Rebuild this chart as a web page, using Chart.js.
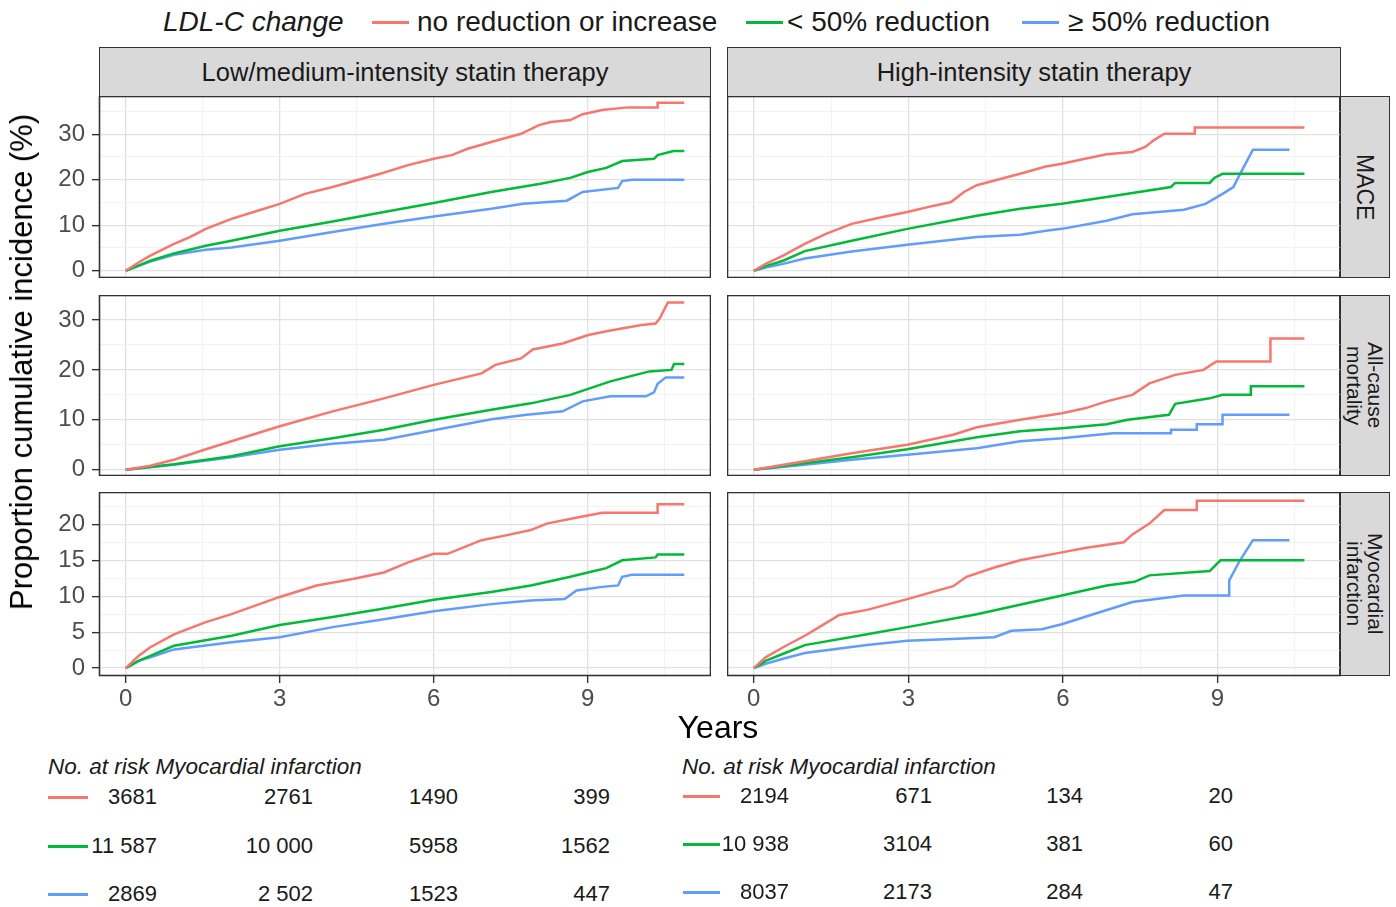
<!DOCTYPE html>
<html>
<head>
<meta charset="utf-8">
<script src="https://cdn.jsdelivr.net/npm/chart.js@4"></script>
<style>
  body { margin: 0; background: #fff; font-family: "Liberation Sans", Arial, sans-serif; color: #1a1a1a; }
  #page { position: relative; width: 1396px; height: 907px; overflow: hidden; }
  .abs { position: absolute; white-space: nowrap; }
  .box { position: absolute; }
  .strip { position: absolute; background: #d9d9d9; border: 1.6px solid #333; box-sizing: border-box;
           display: flex; align-items: center; justify-content: center; font-size: 25.5px; color: #1a1a1a; }
  .vstrip { writing-mode: vertical-rl; line-height: 21px; font-size: 21px; text-align: center; }
  .key { position: absolute; height: 3px; }
</style>
</head>
<body>
<div id="page"></div>
<script>
// legend / series
const seriesNames = ['no reduction or increase', '< 50% reduction', '\u2265 50% reduction'];
const seriesColors = ['#F8766D', '#00BA38', '#619CFF'];
const therapies = ['Low/medium-intensity statin therapy', 'High-intensity statin therapy'];
const outcomes = ['MACE', 'All-cause\nmortality', 'Myocardial\ninfarction'];

// axis ticks
const xMajor = [0, 3, 6, 9];
const xMinor = [1.5, 4.5, 7.5, 10.5];
const yMajorTop = [0, 10, 20, 30];
const yMinorTop = [5, 15, 25, 35];
const yMajorMid = [0, 10, 20, 30];
const yMinorMid = [5, 15, 25];
const yMajorBot = [0, 5, 10, 15, 20];
const yMinorBot = [2.5, 7.5, 12.5, 17.5, 22.5];

// MACE, low/medium intensity
const maceLowNone = [[0,0],[0.25,1.8],[0.48,3.3],[0.94,5.9],[1.25,7.4],[1.56,9.2],[2.06,11.4],[2.49,12.9],[3,14.7],[3.49,16.9],[4.03,18.4],[4.5,19.9],[4.96,21.3],[5.5,23.2],[6,24.6],[6.35,25.4],[6.66,26.8],[7.12,28.3],[7.7,30.1],[8.05,32],[8.28,32.7],[8.66,33.1],[8.9,34.4],[9.28,35.3],[9.78,35.9],[10.36,35.9],[10.36,36.9],[10.88,36.9]];
const maceLowUnder = [[0,0],[0.25,1.1],[0.48,2.2],[0.94,3.8],[1.56,5.5],[2.06,6.6],[3,8.8],[4.03,10.8],[5.03,12.9],[6,14.9],[7.12,17.3],[8.08,19.1],[8.66,20.4],[9,21.7],[9.36,22.6],[9.67,24.1],[10.29,24.6],[10.36,25.4],[10.67,26.3],[10.88,26.3]];
const maceLowOver = [[0,0],[0.25,1.1],[0.48,2.0],[0.94,3.5],[1.56,4.6],[2.06,5.1],[3,6.6],[4.03,8.5],[5.03,10.3],[6,11.9],[7.12,13.6],[7.74,14.7],[8.59,15.4],[8.9,17.3],[9.59,18.2],[9.67,19.7],[9.86,20],[10.88,20]];
// MACE, high intensity
const maceHighNone = [[0,0],[0.23,1.5],[0.57,3.3],[0.99,5.9],[1.4,8.1],[1.9,10.3],[2.5,11.8],[2.98,12.9],[3.5,14.3],[3.83,15.1],[4.08,17.3],[4.33,18.8],[5.17,21.3],[5.67,22.9],[5.98,23.5],[6.43,24.6],[6.85,25.6],[7.35,26.1],[7.6,27.2],[7.77,28.7],[7.97,30.1],[8.56,30.1],[8.56,31.5],[10.69,31.5]];
const maceHighUnder = [[0,0],[0.23,1],[0.57,2.2],[0.99,4.3],[1.9,6.6],[2.98,9.2],[4.33,12.1],[5.17,13.6],[5.98,14.7],[6.85,16.2],[7.35,17.1],[8.1,18.4],[8.18,19.3],[8.85,19.3],[8.94,20.4],[9.1,21.3],[10.69,21.3]];
const maceHighOver = [[0,0],[0.23,0.7],[0.57,1.5],[0.99,2.7],[1.9,4.2],[2.98,5.7],[4.33,7.4],[5.17,7.9],[5.67,8.8],[5.98,9.2],[6.85,11],[7.35,12.4],[8.35,13.4],[8.77,14.7],[9.1,16.9],[9.31,18.4],[9.48,22.1],[9.69,26.6],[10.4,26.6]];
// All-cause mortality, low/medium intensity
const mortLowNone = [[0,0],[0.48,0.8],[0.94,2],[1.56,4.1],[2.06,5.7],[3,8.7],[4.03,11.7],[5.03,14.3],[6,17],[6.93,19.3],[7.2,21],[7.7,22.3],[7.93,24.1],[8.51,25.3],[9.01,27],[9.44,27.9],[10.05,29],[10.32,29.3],[10.4,30.3],[10.56,33.5],[10.88,33.5]];
const mortLowUnder = [[0,0],[0.94,1.1],[2.06,2.7],[3,4.7],[4.03,6.3],[5.03,8],[6,10],[7.12,12],[7.89,13.3],[8.66,15],[9.44,17.7],[10.2,19.7],[10.63,20],[10.68,21.2],[10.88,21.2]];
const mortLowOver = [[0,0],[0.94,1],[2.06,2.5],[3,4],[4.03,5.2],[5.03,6],[6,7.9],[7.12,10.1],[7.81,11],[8.51,11.7],[8.9,13.7],[9.44,14.7],[10.13,14.7],[10.29,15.5],[10.36,17.2],[10.52,18.5],[10.88,18.5]];
// All-cause mortality, high intensity
const mortHighNone = [[0,0],[0.99,1.7],[1.9,3.3],[2.98,5],[3.87,7],[4.33,8.5],[5.17,10],[5.98,11.3],[6.43,12.3],[6.85,13.7],[7.35,15],[7.68,17.3],[8.18,19],[8.73,20],[8.98,21.7],[10.03,21.7],[10.03,26.3],[10.69,26.3]];
const mortHighUnder = [[0,0],[0.99,1.3],[1.9,2.5],[2.98,4.1],[4.33,6.5],[5.17,7.7],[5.98,8.3],[6.85,9.1],[7.26,10],[8.06,11],[8.18,13.2],[8.85,14.3],[9.1,15],[9.65,15],[9.65,16.7],[10.69,16.7]];
const mortHighOver = [[0,0],[0.99,1],[1.9,2],[2.98,3],[4.33,4.3],[5.17,5.7],[5.98,6.3],[6.97,7.3],[8.1,7.3],[8.1,8],[8.6,8],[8.6,9.1],[9.1,9.1],[9.1,11],[10.4,11]];
// Myocardial infarction, low/medium intensity
const miLowNone = [[0,0],[0.25,1.7],[0.48,2.9],[0.94,4.7],[1.56,6.4],[2.06,7.5],[3,9.9],[3.72,11.5],[4.42,12.4],[5.03,13.3],[5.5,14.7],[6,15.9],[6.27,15.9],[6.93,17.8],[7.43,18.5],[7.89,19.2],[8.2,20.1],[8.82,21],[9.28,21.6],[10.36,21.6],[10.36,22.8],[10.88,22.8]];
const miLowUnder = [[0,0],[0.25,1],[0.48,1.7],[0.94,3.1],[2.06,4.5],[3,6],[4.03,7.1],[5.03,8.3],[6,9.5],[7.12,10.6],[7.89,11.5],[8.66,12.7],[9,13.3],[9.36,13.9],[9.67,15],[10.32,15.4],[10.36,15.8],[10.88,15.8]];
const miLowOver = [[0,0],[0.25,1],[0.48,1.5],[0.94,2.6],[2.06,3.6],[3,4.3],[4.03,5.7],[5.03,6.8],[6,7.9],[7.12,8.9],[7.89,9.4],[8.55,9.6],[8.78,10.8],[9.28,11.3],[9.59,11.5],[9.67,12.7],[9.86,13],[10.88,13]];
// Myocardial infarction, high intensity
const miHighNone = [[0,0],[0.23,1.5],[0.57,2.9],[0.99,4.5],[1.32,5.9],[1.66,7.4],[2.2,8.1],[2.98,9.6],[3.87,11.4],[4.13,12.7],[4.67,14],[5.17,15],[5.98,16.1],[6.43,16.7],[7.18,17.5],[7.35,18.6],[7.68,20.1],[7.97,22],[8.6,22],[8.6,23.3],[10.69,23.3]];
const miHighUnder = [[0,0],[0.23,1],[0.57,2],[0.99,3.2],[2.2,4.7],[2.98,5.7],[4.33,7.5],[5.98,10.1],[6.85,11.5],[7.39,12],[7.68,12.9],[8.85,13.5],[9.06,15],[10.69,15]];
const miHighOver = [[0,0],[0.23,0.6],[0.57,1.3],[0.99,2.1],[2.2,3.2],[2.98,3.8],[4.67,4.3],[5,5.2],[5.59,5.4],[5.98,6.1],[6.59,7.5],[7.35,9.2],[8.35,10.1],[9.23,10.1],[9.23,12.2],[9.44,15],[9.69,17.8],[10.4,17.8]];

// numbers at risk (years 0, 3, 6, 9)
const riskTitle = 'No. at risk Myocardial infarction';
const riskLowNone = ['3681', '2761', '1490', '399'];
const riskLowUnder = ['11 587', '10 000', '5958', '1562'];
const riskLowOver = ['2869', '2 502', '1523', '447'];
const riskHighNone = ['2194', '671', '134', '20'];
const riskHighUnder = ['10 938', '3104', '381', '60'];
const riskHighOver = ['8037', '2173', '284', '47'];

const page = document.getElementById('page');
function addText(txt, left, top, style) {
  const d = document.createElement('div');
  d.className = 'abs';
  d.textContent = txt;
  d.style.left = left + 'px';
  d.style.top = top + 'px';
  Object.assign(d.style, style || {});
  page.appendChild(d);
  return d;
}
function addKey(color, left, top, width) {
  const k = document.createElement('div');
  k.className = 'key';
  k.style.left = left + 'px';
  k.style.top = top + 'px';
  k.style.width = width + 'px';
  k.style.background = color;
  page.appendChild(k);
}

// top legend
addText('LDL-C change', 163, 6, { fontSize: '28px', fontStyle: 'italic' });
const legendKeyX = [372, 746, 1022];
const legendTextX = [417, 787, 1068];
seriesNames.forEach((n, i) => {
  addKey(seriesColors[i], legendKeyX[i], 21, 37);
  addText(n, legendTextX[i], 6, { fontSize: '28px' });
});

// panel geometry
const colLeft = [99, 727];
const colRight = [710, 1340];
const rowTop = [96, 295, 492];
const rowBottom = [277, 475, 675];

therapies.forEach((t, c) => {
  const s = document.createElement('div');
  s.className = 'strip';
  s.style.left = colLeft[c] + 'px';
  s.style.top = '47px';
  s.style.width = (colRight[c] - colLeft[c] + 1) + 'px';
  s.style.height = '50px';
  s.textContent = t;
  page.appendChild(s);
});
outcomes.forEach((o, r) => {
  const s = document.createElement('div');
  s.className = 'strip vstrip';
  s.style.left = '1339px';
  s.style.top = rowTop[r] + 'px';
  s.style.width = '51px';
  s.style.height = (rowBottom[r] - rowTop[r] + 1) + 'px';
  s.style.fontSize = r === 0 ? '23px' : '21px';
  s.innerHTML = o.replace('\n', '<br>');
  page.appendChild(s);
});

const panelBorder = {
  id: 'panelBorder',
  afterDraw(chart) {
    const a = chart.chartArea, ctx = chart.ctx;
    ctx.save();
    ctx.strokeStyle = '#333333';
    ctx.lineWidth = 1.6;
    ctx.strokeRect(a.left + 0.5, a.top + 0.5, a.right - a.left - 1, a.bottom - a.top - 1);
    ctx.restore();
  }
};

function axisOpts(major, minor, min, max, showLabels, size, isX) {
  return {
    type: 'linear', min: min, max: max,
    afterBuildTicks: ax => { ax.ticks = major.concat(minor).sort((a, b) => a - b).map(v => ({ value: v })); },
    afterFit: ax => {
      if (isX) ax.height = size; else ax.width = size;
      ax.paddingTop = 0; ax.paddingBottom = 0; ax.paddingLeft = 0; ax.paddingRight = 0;
    },
    border: { display: false },
    grid: {
      color: ctx => major.includes(ctx.tick.value) ? '#e1e1e1' : '#f0f0f0',
      lineWidth: ctx => major.includes(ctx.tick.value) ? 1.3 : 0.8,
      drawTicks: showLabels,
      tickLength: 7,
      tickColor: ctx => major.includes(ctx.tick.value) ? '#333333' : 'rgba(0,0,0,0)',
      tickWidth: 1.4
    },
    ticks: {
      display: showLabels,
      autoSkip: false, maxRotation: 0,
      padding: isX ? 2 : 7,
      color: '#4d4d4d',
      font: { family: '"Liberation Sans", Arial, sans-serif', size: 24 },
      callback: v => major.includes(v) ? String(v) : ''
    }
  };
}

const panels = [
  { row: 0, col: 0, data: [maceLowNone, maceLowUnder, maceLowOver] },
  { row: 0, col: 1, data: [maceHighNone, maceHighUnder, maceHighOver] },
  { row: 1, col: 0, data: [mortLowNone, mortLowUnder, mortLowOver] },
  { row: 1, col: 1, data: [mortHighNone, mortHighUnder, mortHighOver] },
  { row: 2, col: 0, data: [miLowNone, miLowUnder, miLowOver] },
  { row: 2, col: 1, data: [miHighNone, miHighUnder, miHighOver] }
];
const yTicks = [
  { major: yMajorTop, minor: yMinorTop, min: -1.6, max: 38.4 },
  { major: yMajorMid, minor: yMinorMid, min: -1.25, max: 35.0 },
  { major: yMajorBot, minor: yMinorBot, min: -1.1, max: 24.5 }
];

panels.forEach(p => {
  const yAxisW = p.col === 0 ? 69 : 0;
  const xAxisH = p.row === 2 ? 44 : 0;
  const left = colLeft[p.col] - yAxisW;
  const width = colRight[p.col] - left + 1;
  const height = rowBottom[p.row] - rowTop[p.row] + 1 + xAxisH;
  const box = document.createElement('div');
  box.className = 'box';
  box.style.left = left + 'px';
  box.style.top = rowTop[p.row] + 'px';
  box.style.width = width + 'px';
  box.style.height = height + 'px';
  const cv = document.createElement('canvas');
  box.appendChild(cv);
  page.appendChild(box);
  const yt = yTicks[p.row];
  new Chart(cv, {
    type: 'line',
    data: {
      datasets: p.data.map((d, i) => ({
        label: seriesNames[i],
        data: d.map(pt => ({ x: pt[0], y: pt[1] })),
        borderColor: seriesColors[i],
        borderWidth: 2.5,
        pointRadius: 0,
        fill: false,
        tension: 0
      }))
    },
    options: {
      responsive: true,
      maintainAspectRatio: false,
      animation: false,
      layout: { padding: 0 },
      plugins: { legend: { display: false }, tooltip: { enabled: false } },
      scales: {
        x: axisOpts(xMajor, xMinor, -0.52, 11.4, p.row === 2, xAxisH, true),
        y: axisOpts(yt.major, yt.minor, yt.min, yt.max, p.col === 0, yAxisW, false)
      }
    },
    plugins: [panelBorder]
  });
});

// axis titles
const yTitle = addText('Proportion cumulative incidence (%)', 22, 362, { fontSize: '31px', color: '#000' });
yTitle.style.transform = 'translate(-50%, -50%) rotate(-90deg)';
const xTitle = addText('Years', 718, 727, { fontSize: '32px', color: '#000' });
xTitle.style.transform = 'translate(-50%, -50%)';

// numbers at risk tables
function riskTable(rows, titleX, keyX, keyW, colRightX, rowY) {
  addText(riskTitle, titleX, 754, { fontSize: '22.5px', fontStyle: 'italic' });
  rows.forEach((vals, i) => {
    addKey(seriesColors[i], keyX, rowY[i] - 1, keyW);
    vals.forEach((v, j) => {
      const d = addText(v, colRightX[j], rowY[i], { fontSize: '22px' });
      d.style.transform = 'translate(-100%, -50%)';
    });
  });
}
riskTable([riskLowNone, riskLowUnder, riskLowOver], 48, 48, 40, [157, 313, 458, 610], [797, 846, 894]);
riskTable([riskHighNone, riskHighUnder, riskHighOver], 682, 683, 37, [789, 932, 1083, 1233], [796, 844, 892]);
</script>
</body>
</html>
